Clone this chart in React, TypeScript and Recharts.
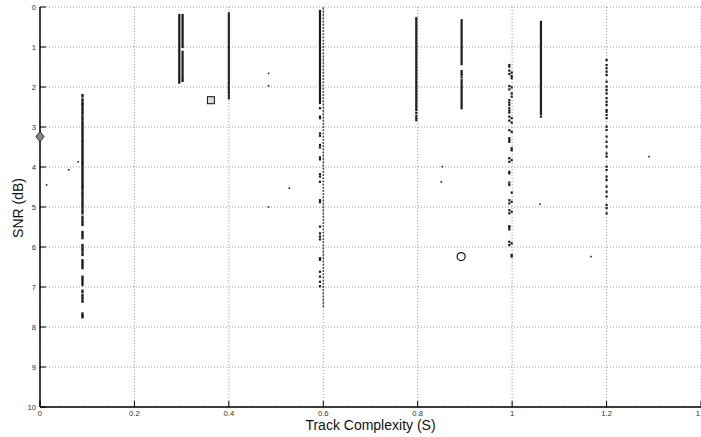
import React from 'react';
import { ScatterChart, Scatter, XAxis, YAxis, CartesianGrid } from 'recharts';

const X_TICKS = [0, 0.2, 0.4, 0.6, 0.8, 1, 1.2, 1.4];
const Y_TICKS = [0, 1, 2, 3, 4, 5, 6, 7, 8, 9, 10];

// dense vertical clusters (x position, SNR values)
const col090 = [2.2, 2.24, 2.31, 2.34, 2.39, 2.42, 2.45, 2.49, 2.53, 2.57, 2.61, 2.65, 2.69, 2.74, 2.78, 2.82, 2.87, 2.91, 2.95, 2.99, 3.03, 3.07, 3.11, 3.15, 3.19, 3.23, 3.27, 3.31, 3.35, 3.37, 3.41, 3.45, 3.49, 3.53, 3.57, 3.61, 3.65, 3.69, 3.73, 3.77, 3.81, 3.85, 3.89, 3.91, 3.95, 3.99, 4.03, 4.07, 4.11, 4.15, 4.19, 4.23, 4.27, 4.31, 4.35, 4.39, 4.43, 4.47, 4.49, 4.53, 4.57, 4.62, 4.66, 4.7, 4.74, 4.78, 4.83, 4.87, 4.91, 4.95, 4.99, 5.03, 5.08, 5.12, 5.16, 5.24, 5.28, 5.33, 5.37, 5.41, 5.45, 5.62, 5.66, 5.7, 5.74, 5.78, 5.95, 5.99, 6.03, 6.07, 6.11, 6.16, 6.2, 6.33, 6.37, 6.41, 6.45, 6.49, 6.53, 6.74, 6.78, 6.82, 6.86, 6.9, 6.95, 7.09, 7.13, 7.2, 7.24, 7.28, 7.33, 7.37, 7.66, 7.7, 7.73, 7.76];
const col295 = [0.2, 0.25, 0.3, 0.35, 0.4, 0.45, 0.5, 0.55, 0.6, 0.65, 0.7, 0.75, 0.8, 0.85, 0.9, 0.95, 1.0, 1.05, 1.1, 1.15, 1.2, 1.25, 1.3, 1.35, 1.4, 1.45, 1.5, 1.55, 1.6, 1.65, 1.7, 1.75, 1.8, 1.85, 1.89];
const col302 = [0.2, 0.25, 0.3, 0.35, 0.4, 0.45, 0.5, 0.55, 0.6, 0.65, 0.7, 0.75, 0.8, 0.85, 0.9, 0.95, 1.0, 1.12, 1.17, 1.22, 1.27, 1.32, 1.37, 1.42, 1.47, 1.52, 1.57, 1.62, 1.67, 1.72, 1.77, 1.81, 1.85];
const col400 = [0.16, 0.21, 0.26, 0.31, 0.36, 0.41, 0.46, 0.51, 0.56, 0.61, 0.66, 0.71, 0.76, 0.81, 0.86, 0.91, 0.96, 1.01, 1.06, 1.11, 1.16, 1.21, 1.26, 1.31, 1.36, 1.41, 1.46, 1.51, 1.56, 1.61, 1.66, 1.71, 1.76, 1.81, 1.86, 1.91, 1.96, 2.01, 2.06, 2.11, 2.16, 2.22, 2.28];
const col593 = [0.1, 0.15, 0.2, 0.25, 0.3, 0.35, 0.4, 0.45, 0.5, 0.55, 0.6, 0.65, 0.7, 0.75, 0.8, 0.85, 0.9, 0.95, 1.0, 1.05, 1.1, 1.15, 1.2, 1.25, 1.3, 1.35, 1.4, 1.45, 1.5, 1.55, 1.6, 1.65, 1.7, 1.75, 1.8, 1.85, 1.9, 1.95, 2.0, 2.05, 2.1, 2.15, 2.2, 2.25, 2.3, 2.35, 2.4, 2.53, 2.74, 2.78, 3.16, 3.22, 3.45, 3.51, 3.76, 3.81, 4.18, 4.24, 4.37, 4.83, 4.88, 5.49, 5.66, 5.74, 5.81, 6.28, 6.32, 6.62, 6.74, 6.87, 6.98];
const col600 = [0.04, 0.12, 0.2, 0.28, 0.36, 0.44, 0.52, 0.6, 0.68, 0.76, 0.84, 0.92, 1.0, 1.08, 1.16, 1.24, 1.32, 1.4, 1.48, 1.56, 1.64, 1.72, 1.8, 1.88, 1.96, 2.04, 2.12, 2.2, 2.28, 2.36, 2.44, 2.52, 2.6, 2.68, 2.76, 2.84, 2.92, 3.0, 3.08, 3.16, 3.24, 3.32, 3.4, 3.48, 3.56, 3.64, 3.72, 3.8, 3.88, 3.96, 4.04, 4.12, 4.2, 4.28, 4.36, 4.44, 4.52, 4.6, 4.68, 4.76, 4.84, 4.92, 5.0, 5.08, 5.16, 5.24, 5.32, 5.4, 5.48, 5.56, 5.64, 5.72, 5.8, 5.88, 5.96, 6.04, 6.12, 6.2, 6.28, 6.36, 6.44, 6.52, 6.6, 6.68, 6.76, 6.84, 6.92, 7.0, 7.08, 7.16, 7.24, 7.32, 7.4, 7.48];
const col797 = [0.28, 0.33, 0.38, 0.43, 0.48, 0.53, 0.58, 0.63, 0.68, 0.73, 0.78, 0.83, 0.88, 0.93, 0.98, 1.03, 1.08, 1.13, 1.18, 1.23, 1.28, 1.33, 1.38, 1.43, 1.48, 1.53, 1.58, 1.63, 1.68, 1.73, 1.78, 1.83, 1.88, 1.93, 1.98, 2.03, 2.08, 2.13, 2.18, 2.23, 2.28, 2.33, 2.38, 2.43, 2.48, 2.53, 2.58, 2.65, 2.72, 2.78, 2.83];
const col893 = [0.33, 0.38, 0.43, 0.48, 0.53, 0.58, 0.63, 0.68, 0.73, 0.78, 0.83, 0.88, 0.93, 0.98, 1.03, 1.08, 1.13, 1.18, 1.23, 1.28, 1.33, 1.38, 1.43, 1.6, 1.65, 1.7, 1.76, 1.83, 1.88, 1.93, 1.98, 2.03, 2.08, 2.13, 2.18, 2.23, 2.28, 2.33, 2.38, 2.43, 2.48, 2.53];
const col994 = [1.45, 1.49, 1.59, 1.675, 1.975, 2.06, 2.33, 2.39, 2.45, 2.53, 2.59, 2.64, 2.74, 2.84, 3.08, 3.28, 3.33, 3.37, 3.78, 3.87, 4.12, 4.16, 4.39, 4.45, 4.83, 4.91, 5.08, 5.16, 5.48, 5.51, 5.56, 5.87, 5.95];
const col999 = [1.64, 1.725, 1.78, 2.01, 2.16, 2.24, 2.78, 2.89, 3.12, 3.53, 3.58, 3.83, 4.64, 4.87, 5.12, 5.91, 6.2, 6.24];
const col1061 = [0.37, 0.42, 0.47, 0.52, 0.57, 0.62, 0.67, 0.72, 0.77, 0.82, 0.87, 0.92, 0.97, 1.02, 1.07, 1.12, 1.17, 1.22, 1.27, 1.32, 1.37, 1.42, 1.47, 1.52, 1.57, 1.62, 1.67, 1.72, 1.77, 1.82, 1.87, 1.92, 1.97, 2.02, 2.07, 2.12, 2.17, 2.22, 2.27, 2.32, 2.37, 2.42, 2.47, 2.52, 2.57, 2.62, 2.67, 2.74];
const col1200 = [1.325, 1.45, 1.53, 1.617, 1.7, 1.867, 1.99, 2.075, 2.16, 2.28, 2.37, 2.45, 2.575, 2.62, 2.7, 2.78, 2.99, 3.075, 3.24, 3.37, 3.49, 3.66, 3.74, 3.99, 4.075, 4.24, 4.325, 4.49, 4.62, 4.74, 4.95, 5.03, 5.16];

// isolated points
const isoX = [0.014, 0.061, 0.081, 0.484, 0.484, 0.528, 0.484, 0.852, 0.85, 1.059, 1.29, 1.167];
const isoY = [4.45, 4.07, 3.87, 1.66, 1.97, 4.53, 5.0, 3.99, 4.37, 4.93, 3.74, 6.24];

// highlighted markers
const diamondPt = [{ x: 0, y: 3.24 }];
const squarePt = [{ x: 0.362, y: 2.33 }];
const circlePt = [{ x: 0.892, y: 6.24 }];

const toPts = (x: number, ys: number[]) => ys.map((y) => ({ x, y }));

const darkDots = [
  ...toPts(0.09, col090),
  ...toPts(0.295, col295),
  ...toPts(0.302, col302),
  ...toPts(0.4, col400),
  ...toPts(0.593, col593),
  ...toPts(0.797, col797),
  ...toPts(0.893, col893),
  ...toPts(0.994, col994),
  ...toPts(0.999, col999),
  ...toPts(1.061, col1061),
  ...toPts(1.2, col1200),
];
const isoDots = isoX.map((x, i) => ({ x, y: isoY[i] }));
const grayDots = toPts(0.6, col600);

const FONT = '"Liberation Sans", Arial, Helvetica, sans-serif';
const fmt = (v: number) => String(Math.round(v * 10) / 10);

const DarkDot = (p: any) => <rect x={p.cx - 1.1} y={p.cy - 1.1} width={2.2} height={2.2} fill="#1a1a1a" />;
const IsoDot = (p: any) => <rect x={p.cx - 0.8} y={p.cy - 0.8} width={1.6} height={1.6} fill="#222" />;
const GrayDot = (p: any) => <rect x={p.cx - 0.7} y={p.cy - 0.9} width={1.5} height={1.8} fill="#444" />;
const Diamond = (p: any) => (
  <polygon
    points={`${p.cx},${p.cy - 5} ${p.cx + 4},${p.cy} ${p.cx},${p.cy + 5} ${p.cx - 4},${p.cy}`}
    fill="#8a8a8a"
    stroke="#222"
    strokeWidth={1}
  />
);
const Square = (p: any) => (
  <rect x={p.cx - 3.5} y={p.cy - 3.5} width={7} height={7} fill="#ddd" stroke="#111" strokeWidth={1} />
);
const Circle = (p: any) => <circle cx={p.cx} cy={p.cy} r={4} fill="#fff" stroke="#111" strokeWidth={1.2} />;

const BottomTick = (p: any) => (
  <g>
    <line x1={p.x} x2={p.x} y1={p.y} y2={p.y - 6} stroke="#000" strokeWidth={1} />
    <text x={p.x} y={p.y + 9} textAnchor="middle" fontSize={7.7} fontFamily={FONT} fill="#333">
      {fmt(p.payload.value)}
    </text>
  </g>
);
const TopTick = (p: any) => (
  <line x1={p.x} x2={p.x} y1={p.y} y2={p.y + 6} stroke="#000" strokeWidth={1} />
);
const LeftTick = (p: any) => (
  <g>
    <line x1={p.x} x2={p.x + 6} y1={p.y} y2={p.y} stroke="#000" strokeWidth={1} />
    <text x={p.x - 4} y={p.y + 2.8} textAnchor="end" fontSize={7.7} fontFamily={FONT} fill="#333">
      {fmt(p.payload.value)}
    </text>
  </g>
);
const RightTick = (p: any) => (
  <line x1={p.x} x2={p.x - 6} y1={p.y} y2={p.y} stroke="#000" strokeWidth={1} />
);

const axisLine = { stroke: '#000', strokeWidth: 1.5 };

export default function App() {
  return (
    <div style={{ position: 'absolute', left: 0, top: 0, width: 701, height: 437, overflow: 'hidden', background: '#fff' }}>
      <ScatterChart width={720} height={437} margin={{ top: 7, right: 19, bottom: 0, left: 0 }}>
        <CartesianGrid stroke="#999" strokeDasharray="1 2" strokeWidth={1} />
        <XAxis
          type="number"
          dataKey="x"
          domain={[0, 1.4]}
          ticks={X_TICKS}
          interval={0}
          height={30}
          tickSize={0}
          tickMargin={0}
          tickLine={false}
          axisLine={axisLine}
          tick={(p: any) => <BottomTick {...p} />}
          label={() => (
            <text x={370.5} y={429.5} textAnchor="middle" fontSize={14} fontFamily={FONT} fill="#111">
              Track Complexity (S)
            </text>
          )}
        />
        <XAxis
          xAxisId="top"
          orientation="top"
          type="number"
          domain={[0, 1.4]}
          ticks={X_TICKS}
          interval={0}
          allowDataOverflow
          height={0}
          tickSize={0}
          tickMargin={0}
          tickLine={false}
          axisLine={axisLine}
          tick={(p: any) => <TopTick {...p} />}
        />
        <YAxis
          type="number"
          dataKey="y"
          reversed
          domain={[0, 10]}
          ticks={Y_TICKS}
          interval={0}
          width={40}
          tickSize={0}
          tickMargin={0}
          tickLine={false}
          axisLine={axisLine}
          tick={(p: any) => <LeftTick {...p} />}
          label={() => (
            <text
              x={0}
              y={0}
              transform="translate(22.5,208) rotate(-90)"
              textAnchor="middle"
              fontSize={14}
              fontFamily={FONT}
              fill="#111"
            >
              SNR (dB)
            </text>
          )}
        />
        <YAxis
          yAxisId="right"
          orientation="right"
          type="number"
          reversed
          domain={[0, 10]}
          ticks={Y_TICKS}
          interval={0}
          allowDataOverflow
          width={0}
          tickSize={0}
          tickMargin={0}
          tickLine={false}
          axisLine={axisLine}
          tick={(p: any) => <RightTick {...p} />}
        />
        <Scatter data={grayDots} shape={GrayDot} isAnimationActive={false} />
        <Scatter data={darkDots} shape={DarkDot} isAnimationActive={false} />
        <Scatter data={isoDots} shape={IsoDot} isAnimationActive={false} />
        <Scatter data={diamondPt} shape={Diamond} isAnimationActive={false} />
        <Scatter data={squarePt} shape={Square} isAnimationActive={false} />
        <Scatter data={circlePt} shape={Circle} isAnimationActive={false} />
      </ScatterChart>
    </div>
  );
}
